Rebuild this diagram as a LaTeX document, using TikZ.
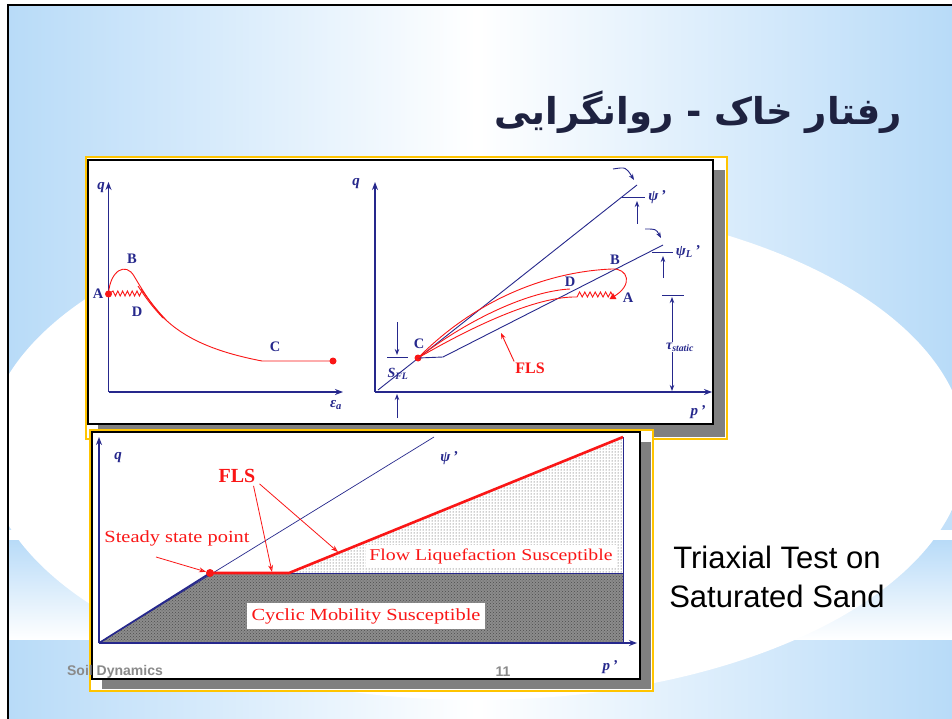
\documentclass[tikz,border=0pt]{standalone}
\usepackage{fontspec}
\setmainfont{Liberation Serif}
\newfontfamily\arabicfont[Script=Arabic]{DejaVu Sans}
\newfontfamily\slidesans{Liberation Sans}
\newfontfamily\wideserif[FakeStretch=1.2]{Liberation Serif}
\TeXXeTstate=1
\usetikzlibrary{arrows.meta,positioning,patterns,shapes.geometric}
\definecolor{bgblue}{RGB}{184,219,248}
\definecolor{navyax}{RGB}{38,40,140}
\definecolor{redc}{RGB}{250,22,22}
\definecolor{framegold}{RGB}{255,196,0}
\definecolor{titlecol}{RGB}{30,34,64}
\definecolor{shadowgray}{RGB}{128,128,128}
\definecolor{footgray}{RGB}{138,138,138}

\begin{document}
\begin{tikzpicture}[
    x=1pt, y=-1pt,
    axis/.style={navyax, line width=1.4pt, -{Stealth[length=8pt,width=6pt]}},
    guide/.style={navyax, line width=0.9pt},
    guidearrow/.style={guide, -{Stealth[length=6pt,width=4.5pt]}},
    curve/.style={redc, line width=0.9pt},
    reddot/.style={circle, fill=redc, inner sep=0pt, minimum size=7pt},
    ptlbl/.style={navyax, font=\bfseries\fontsize{14.5}{14.5}\selectfont, inner sep=0pt},
    axlbl/.style={navyax, font=\bfseries\itshape\fontsize{15}{15}\selectfont, inner sep=0pt},
    redlbl/.style={redc, inner sep=1pt},
    panel/.style={draw=black, line width=1.8pt, fill=white},
    goldframe/.style={draw=framegold, line width=1.6pt, fill=white},
    footer/.style={footgray, font=\slidesans\bfseries\fontsize{14}{14}\selectfont, inner sep=0pt}
  ]
    \useasboundingbox (0,0) rectangle (952,719);
    \fill[white] (0,0) rectangle (952,719);
    \shade[left color=bgblue, right color=white] (8,5) rectangle (476,719);
    \shade[left color=white, right color=bgblue] (476,5) rectangle (952,719);
    \fill[bgblue!85] (8,512) rectangle (952,530);
    \fill[white] (8,530) rectangle (952,540);
    \shade[top color=bgblue, bottom color=white] (8,540) rectangle (952,640);
    \shade[left color=bgblue, right color=white] (8,640) rectangle (476,719);
    \shade[left color=white, right color=bgblue] (476,640) rectangle (952,719);
    \fill[white] (476,450) ellipse [x radius=490, y radius=250];
    \draw[black, line width=2.5pt] (8,719) -- (8,5) -- (952,5);

    \node[titlecol, anchor=east, inner sep=0pt, font=\fontsize{37}{37}\selectfont] (title) at (902,112)
      {\arabicfont\bfseries\beginR رفتار خاک - روانگرایی\endR};
    \node[black, align=center, inner sep=0pt, font=\slidesans\fontsize{31}{39}\selectfont] (caption) at (777,577)
      {Triaxial Test on\\Saturated Sand};

    \draw[goldframe] (86,157) rectangle (727,439);
    \fill[shadowgray] (98,170) rectangle (725,437);
    \draw[panel] (88,160) rectangle (713,424);

    \draw[axis] (108.5,392) -- (108.5,182);
    \draw[axis] (108.5,392) -- (343,392);
    \node[axlbl] (q1) at (101,188) {q};
    \node[axlbl] (ea) at (336,405) {ε\textsubscript{a}};
    \node[reddot] (A1) at (108.5,294) {};
    \node[reddot] (C1dot) at (333,361) {};
    \node[ptlbl] (A1lbl) at (98,294) {A};
    \node[ptlbl] (B1lbl) at (132,259) {B};
    \node[ptlbl] (D1lbl) at (137,312) {D};
    \node[ptlbl] (C1lbl) at (275,347) {C};
    \draw[curve] (A1.center) -- (113,291) \foreach \i in {1,...,6} { -- ++(2.4,5) -- ++(2.4,-5) };
    \draw[curve] (A1.center) .. controls (110,270) and (126,262) .. (134,276)
      .. controls (140,286) and (148,300) .. (160,314)
      .. controls (182,338) and (215,352) .. (262,361) -- (C1dot.center);
    \draw[curve] (141,289) .. controls (147,297) and (153,306) .. (166,320);
    \draw[curve] (138,286) .. controls (146,298) and (150,304) .. (163,318);

    \draw[axis] (375,392) -- (375,182);
    \draw[axis] (375,392) -- (712,392);
    \node[axlbl] (q2) at (356,184) {q};
    \node[axlbl] (p2) at (698,412) {p\,'};
    \draw[guide] (378,390) -- (637,185);
    \node[reddot] (C2) at (418,358) {};
    \draw[guide] (C2.center) -- (443,357) -- (663,245);
    \node[ptlbl] (C2lbl) at (419,344) {C};
    \node[ptlbl] (B2lbl) at (615,260) {B};
    \node[ptlbl] (D2lbl) at (570,282) {D};
    \node[redc, regular polygon, regular polygon sides=3, fill=redc, inner sep=0pt, minimum size=8pt] (A2) at (613,297) {};
    \node[ptlbl] (A2lbl) at (628,298) {A};
    \draw[curve] (C2.center) .. controls (470,305) and (540,272) .. (612,269)
      .. controls (628,268) and (634,285) .. (A2.center);
    \draw[curve] (C2.center) .. controls (470,318) and (530,291) .. (570,289);
    \draw[curve] (C2.center) .. controls (480,322) and (540,296) .. (577,297);
    \draw[curve] (577,297) \foreach \i in {1,...,7} { -- ++(2.6,-5) -- ++(2.6,5) };
    \node[redlbl, font=\bfseries\fontsize{16}{16}\selectfont] (fls2) at (530,368) {FLS};
    \coordinate (fls2pt) at (501,333);
    \draw[curve, -{Stealth[length=6pt,width=4.5pt]}] (fls2.north west) -- (fls2pt);

    \draw[guidearrow] (613,169) .. controls (626,167) .. (634,180);
    \draw[guide] (622,197) -- (645,197);
    \node[axlbl] (psi2) at (657,197) {ψ\,'};
    \draw[guidearrow] (637,224) -- (637,201);
    \draw[guidearrow] (645,229) .. controls (656,229) .. (661,238);
    \draw[guide] (652,252) -- (673,252);
    \node[axlbl] (psiL) at (688,252) {ψ\textsubscript{L}\,'};
    \draw[guidearrow] (663,278) -- (663,256);
    \draw[guide] (662,295) -- (684,295);
    \draw[guide, {Stealth[length=6pt,width=4.5pt]}-{Stealth[length=6pt,width=4.5pt]}] (672,297) -- (672,391);
    \node[axlbl, fill=white, inner sep=1pt, font=\bfseries\itshape\fontsize{14}{14}\selectfont] (tau) at (680,347) {τ\textsubscript{static}};
    \draw[guide] (387,357) -- (408,357);
    \draw[guidearrow] (397,322) -- (397,355);
    \draw[guidearrow] (397,418) -- (397,394);
    \node[axlbl, font=\bfseries\itshape\fontsize{14}{14}\selectfont] (sfl) at (398,374) {S\textsubscript{FL}};

    \draw[goldframe] (90,430) rectangle (653,691);
    \fill[shadowgray] (102,442) rectangle (651,689);
    \draw[panel] (92,432) rectangle (640,679);

    \fill[black!45] (99,643) -- (210,573) -- (623,573) -- (623,643) -- cycle;
    \fill[pattern=crosshatch dots, pattern color=black!70] (99,643) -- (210,573) -- (623,573) -- (623,643) -- cycle;
    \fill[pattern=dots, pattern color=black!80] (289,573) -- (623,437) -- (623,573) -- cycle;
    \draw[axis] (99,643) -- (99,437);
    \draw[axis] (99,643) -- (637,643);
    \draw[guide] (623,437) -- (623,643);
    \draw[guide] (210,573) -- (623,573);
    \draw[navyax, line width=0.7pt] (99,643) -- (434,437);
    \draw[navyax, line width=1.6pt] (99,643) -- (210,573);
    \draw[redc, line width=2.6pt] (210,573) -- (289,573) -- (623,437);
    \node[reddot, minimum size=8pt] (ssp) at (210,573) {};
    \node[axlbl] (q3) at (118,458) {q};
    \node[axlbl] (p3) at (610,667) {p\,'};
    \node[axlbl] (psi3) at (449,458) {ψ\,'};
    \node[redlbl, fill=white, inner sep=3pt, font=\wideserif\fontsize{16.5}{16.5}\selectfont] (flowlbl) at (491,556) {Flow Liquefaction Susceptible};
    \node[redlbl, fill=white, inner sep=5pt, font=\wideserif\fontsize{17}{17}\selectfont] (cycliclbl) at (366,616) {Cyclic Mobility Susceptible};
    \node[redlbl, font=\wideserif\fontsize{17}{17}\selectfont] (ssplbl) at (177,538) {Steady state point};
    \node[redlbl, font=\bfseries\fontsize{20}{20}\selectfont] (fls3) at (237,476) {FLS};
    \coordinate (fls3a) at (272,572);
    \coordinate (fls3b) at (338,552);
    \coordinate (sspfrom) at (156,557);
    \draw[redc, line width=0.8pt, -{Stealth[length=7pt,width=5pt,open]}] (fls3.south east) ++(-3,2) -- (fls3a);
    \draw[redc, line width=0.8pt, -{Stealth[length=7pt,width=5pt,open]}] (fls3.south east) ++(3,0) -- (fls3b);
    \draw[redc, line width=0.8pt, -{Stealth[length=7pt,width=5pt,open]}] (sspfrom) -- (ssp);

    \node[footer] (footname) at (115,672) {Soil Dynamics};
    \node[footer] (pagenum) at (503,672) {11};
  \end{tikzpicture}
\end{document}
